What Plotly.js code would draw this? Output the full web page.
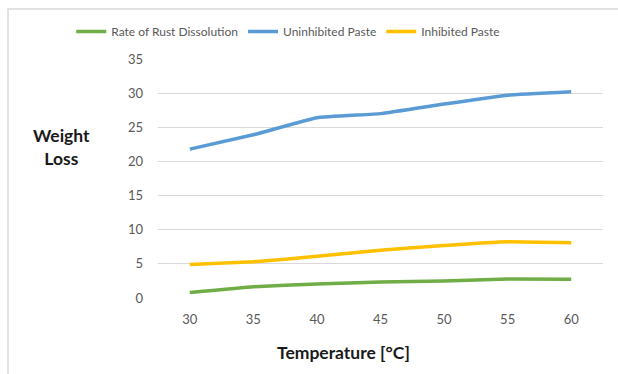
<!DOCTYPE html>
<html>
<head>
<meta charset="utf-8">
<script src="https://cdn.plot.ly/plotly-3.0.1.min.js"></script>
<style>html,body{margin:0;padding:0;background:#fff;}#chart{width:618px;height:374px;}</style>
</head>
<body>
<div id="chart"></div>
<script>
var temperatures = ['30', '35', '40', '45', '50', '55', '60'];
var rustDissolution = [0.8, 1.65, 2.05, 2.35, 2.5, 2.8, 2.75];
var uninhibitedPaste = [21.8, 23.9, 26.4, 27.0, 28.4, 29.7, 30.2];
var inhibitedPaste = [4.9, 5.3, 6.1, 7.0, 7.7, 8.25, 8.1];
var yTicks = [0, 5, 10, 15, 20, 25, 30, 35];

var font = 'Lato, "Open Sans", sans-serif';
function line(name, y, color) {
  return {type: 'scatter', mode: 'lines', name: name, x: temperatures, y: y,
          line: {color: color, width: 3.5, shape: 'spline', smoothing: 0.3}};
}
var data = [
  line('Rate of Rust Dissolution', rustDissolution, '#70AD47'),
  line('Uninhibited Paste', uninhibitedPaste, '#5B9BD5'),
  line('Inhibited Paste', inhibitedPaste, '#FFC000')
];
var layout = {
  width: 618, height: 374,
  margin: {l: 158, r: 15, t: 59, b: 76},
  paper_bgcolor: '#fff', plot_bgcolor: '#fff',
  font: {family: font, color: '#595959', size: 13},
  showlegend: true,
  legend: {orientation: 'h', x: -0.195, xanchor: 'left', y: 1.115, yanchor: 'middle',
           font: {size: 12, color: '#595959'}, itemwidth: 30, tracegroupgap: 0},
  xaxis: {type: 'category', range: [-0.5, 6.5], showgrid: false, zeroline: false, showline: false, ticks: '',
          ticklabelstandoff: 12, fixedrange: true},
  yaxis: {range: [0, 35], tickvals: yTicks, showgrid: true, gridcolor: '#d9d9d9', gridwidth: 1,
          zeroline: false, showline: false, ticks: '', ticklabelstandoff: 14, fixedrange: true},
  annotations: [
    {text: '<b>Weight<br>Loss</b>', xref: 'paper', yref: 'paper', x: (61 - 158) / 445, y: (298 - 147) / 239,
     xanchor: 'center', yanchor: 'middle', showarrow: false, align: 'center',
     font: {size: 17.5, color: '#1a1a1a', family: font}},
    {text: '<b>Temperature [°C]</b>', xref: 'paper', yref: 'paper', x: (343 - 158) / 445, y: (298 - 352) / 239,
     xanchor: 'center', yanchor: 'middle', showarrow: false,
     font: {size: 17.5, color: '#1a1a1a', family: font}}
  ],
  shapes: [{type: 'path', xref: 'paper', yref: 'paper',
            path: 'M ' + ((8 - 158) / 445) + ' ' + (-1) + ' L ' + ((8 - 158) / 445) + ' ' + ((298 - 9) / 239) + ' L 2 ' + ((298 - 9) / 239),
            line: {color: '#d9d9d9', width: 1.5}}]
};
Plotly.newPlot('chart', data, layout, {displayModeBar: false, staticPlot: true});
</script>
</body>
</html>
